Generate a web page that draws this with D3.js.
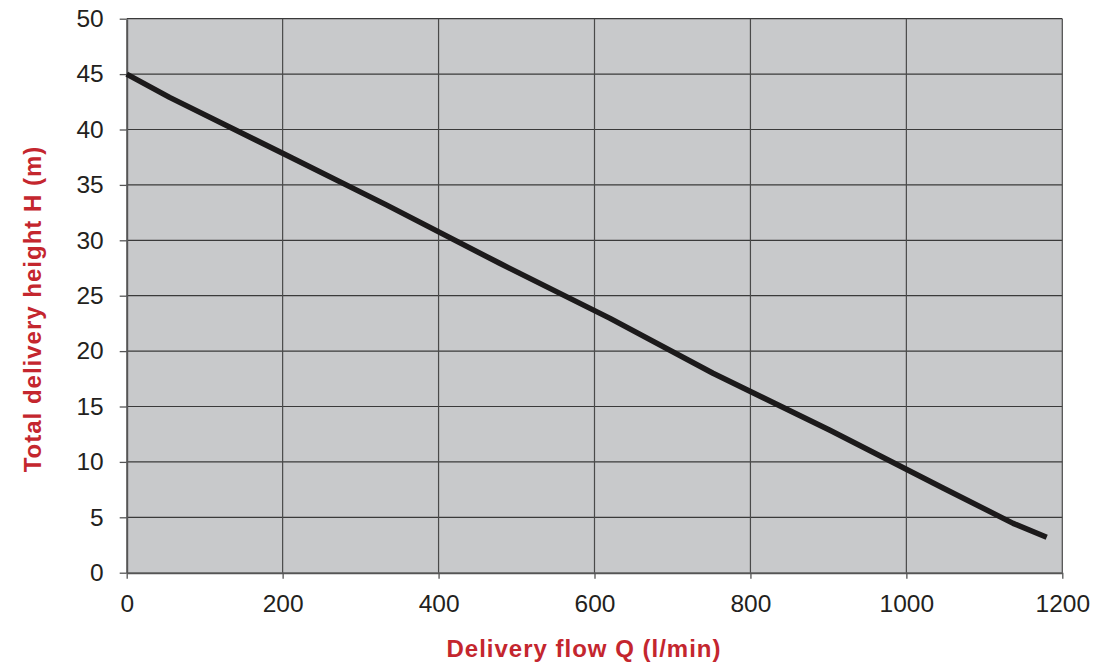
<!DOCTYPE html>
<html>
<head>
<meta charset="utf-8">
<script src="https://cdn.jsdelivr.net/npm/d3@7"></script>
<style>
  html, body { margin: 0; padding: 0; background: #ffffff; }
  svg { display: block; font-family: "Liberation Sans", Arial, sans-serif; }
</style>
</head>
<body>
<svg id="chart" width="1097" height="667"></svg>
<script>
// Data
const flowQ   = [0, 55, 200, 333, 479, 620, 752, 902, 1047, 1137, 1180];
const heightH = [45, 42.9, 37.85, 33.2, 27.9, 22.95, 18.0, 12.85, 7.65, 4.45, 3.2];
const xTicks  = [0, 200, 400, 600, 800, 1000, 1200];
const yTicks  = [0, 5, 10, 15, 20, 25, 30, 35, 40, 45, 50];
const xTitle  = "Delivery flow Q (l/min)";
const yTitle  = "Total delivery height H (m)";

const W = 1097, H = 667;
const margin = { top: 18.7, right: 34.7, bottom: 94.3, left: 126.7 };
const iw = W - margin.left - margin.right;
const ih = H - margin.top - margin.bottom;

const svg = d3.select("#chart");
const g = svg.append("g").attr("transform", `translate(${margin.left},${margin.top})`);

const x = d3.scaleLinear().domain([0, 1200]).range([0, iw]);
const y = d3.scaleLinear().domain([0, 50]).range([ih, 0]);

// plot background
g.append("rect").attr("x", 0).attr("y", 0).attr("width", iw).attr("height", ih)
  .attr("fill", "#c8c9cb");

// grid
g.append("g").selectAll("line.h").data(yTicks.filter(d => d > 0)).join("line")
  .attr("x1", 0).attr("x2", iw)
  .attr("y1", d => y(d)).attr("y2", d => y(d))
  .attr("stroke", "#3a3a3a").attr("stroke-width", 1.2);
g.append("g").selectAll("line.v").data(xTicks.filter(d => d > 0)).join("line")
  .attr("y1", 0).attr("y2", ih)
  .attr("x1", d => x(d)).attr("x2", d => x(d))
  .attr("stroke", "#4a4a4a").attr("stroke-width", 1.2);

// axes
const xAxis = d3.axisBottom(x).tickValues(xTicks).tickSizeInner(6).tickSizeOuter(0).tickPadding(15.5)
  .tickFormat(d3.format("d"));
const yAxis = d3.axisLeft(y).tickValues(yTicks).tickSizeInner(7).tickSizeOuter(0).tickPadding(16)
  .tickFormat(d3.format("d"));

const gx = g.append("g").attr("transform", `translate(0,${ih})`).call(xAxis);
const gy = g.append("g").call(yAxis);

[gx, gy].forEach(a => {
  a.select(".domain").attr("stroke", "#555").attr("stroke-width", 2);
  a.selectAll(".tick line").attr("stroke", "#555").attr("stroke-width", 1.3);
  a.selectAll(".tick text").attr("fill", "#231f20")
    .style("font-size", "24.5px").style("font-family", "'Liberation Sans', Arial, sans-serif");
});

// curve
const line = d3.line().x((d, i) => x(flowQ[i])).y((d, i) => y(heightH[i]));
g.append("path").datum(heightH).attr("d", line)
  .attr("fill", "none").attr("stroke", "#1c1a1b").attr("stroke-width", 5.5)
  .attr("stroke-linejoin", "round").attr("stroke-linecap", "butt");

// axis titles
svg.append("text").text(xTitle)
  .attr("x", 584).attr("y", 657)
  .attr("text-anchor", "middle")
  .attr("fill", "#c4262e").style("font-weight", "bold")
  .style("font-size", "24px").style("letter-spacing", "1px");

svg.append("text").text(yTitle)
  .attr("transform", "translate(41,309) rotate(-90)")
  .attr("text-anchor", "middle")
  .attr("fill", "#c4262e").style("font-weight", "bold")
  .style("font-size", "24px").style("letter-spacing", "1px");
</script>
</body>
</html>
